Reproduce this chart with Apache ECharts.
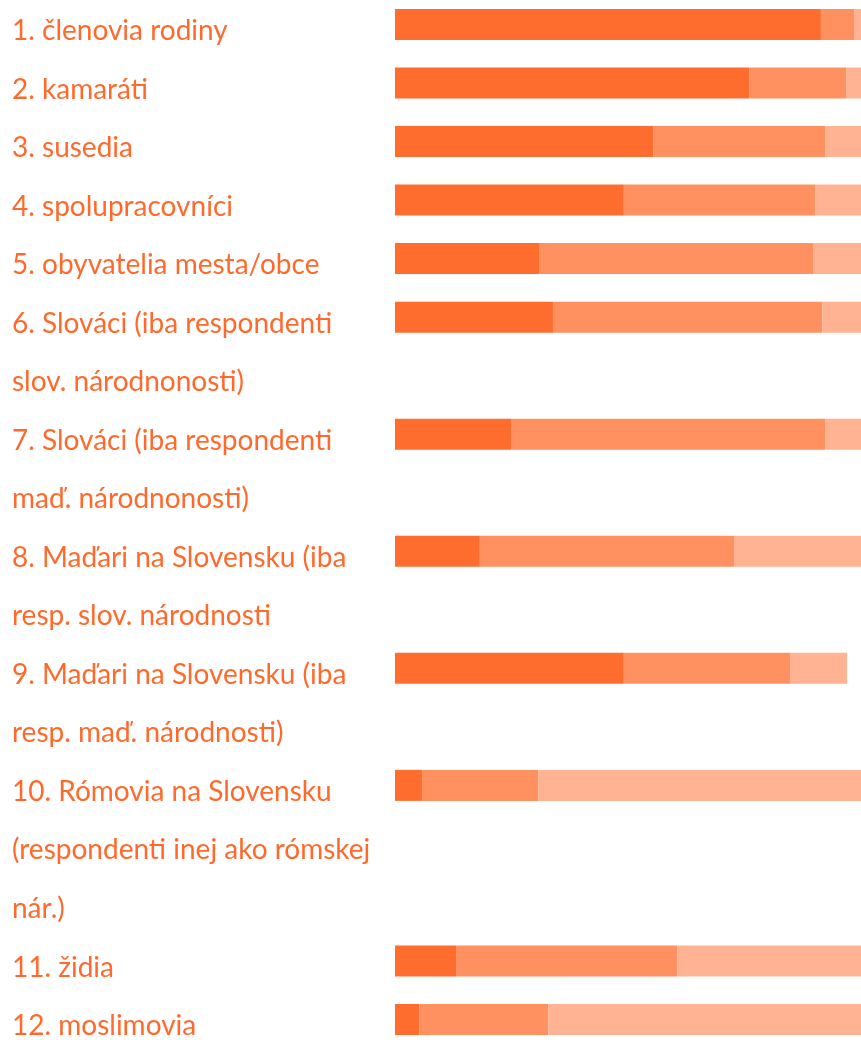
<!DOCTYPE html>
<html>
<head>
<meta charset="utf-8">
<script src="https://cdn.jsdelivr.net/npm/echarts@6/dist/echarts.min.js"></script>
<style>
  html, body { margin: 0; padding: 0; background: #ffffff; }
  #chart { width: 861px; height: 1040px; }
</style>
</head>
<body>
<div id="chart"></div>
<script>
// Group labels, each split into the lines it wraps onto
const groupLabels = [
  ['1. členovia rodiny'],
  ['2. kamaráti'],
  ['3. susedia'],
  ['4. spolupracovníci'],
  ['5. obyvatelia mesta/obce'],
  ['6. Slováci (iba respondenti', 'slov. národnonosti)'],
  ['7. Slováci (iba respondenti', 'maď. národnonosti)'],
  ['8. Maďari na Slovensku (iba', 'resp. slov. národnosti'],
  ['9. Maďari na Slovensku (iba', 'resp. maď. národnosti)'],
  ['10. Rómovia na Slovensku', '(respondenti inej ako rómskej', 'nár.)'],
  ['11. židia'],
  ['12. moslimovia']
];

// Shares in percent, one value per group
const shareFirst  = [91.4, 76.0, 55.4, 49.1, 30.9, 33.9, 24.9, 18.2, 49.1,  5.8, 13.1,  5.2];
const shareSecond = [ 7.1, 20.8, 36.9, 41.1, 58.8, 57.8, 67.4, 54.7, 35.8, 25.0, 47.5, 27.7];
const shareThird  = [ 1.5,  3.2,  7.7,  9.8, 10.3,  8.3,  7.7, 27.1, 12.1, 69.2, 39.4, 67.1];

const colors = ['#ff6d2e', '#ff9161', '#ffb393'];
const textColor = '#ff6a2c';

// Every wrapped line gets its own slot on the category axis;
// a group's bar sits on the slot of its first line.
const lineSlots = [];
const firstSlotOf = [];
groupLabels.forEach((lines, g) => {
  firstSlotOf[g] = lineSlots.length;
  lines.forEach(t => lineSlots.push(t));
});

function spread(values) {
  const out = lineSlots.map(() => '-');
  values.forEach((v, g) => { out[firstSlotOf[g]] = v; });
  return out;
}

const chart = echarts.init(document.getElementById('chart'), null, { renderer: 'canvas' });

const barSeries = [shareFirst, shareSecond, shareThird].map((vals, i) => ({
  type: 'bar',
  stack: 'total',
  data: spread(vals),
  barWidth: 31,
  itemStyle: { color: colors[i] },
  emphasis: { disabled: true },
  animation: false
}));

chart.setOption({
  animation: false,
  grid: { left: 395, right: 0, top: 24.5, bottom: 18.5, containLabel: false },
  xAxis: {
    type: 'value',
    min: 0,
    max: 100,
    show: false
  },
  yAxis: {
    type: 'category',
    data: lineSlots,
    inverse: true,
    boundaryGap: false,
    axisLine: { show: false },
    axisTick: { show: false },
    splitLine: { show: false },
    axisLabel: {
      align: 'left',
      verticalAlign: 'middle',
      margin: 383,
      interval: 0,
      formatter: v => '{line|' + v + '}',
      rich: {
        line: {
          color: textColor,
          fontFamily: 'Lato',
          fontSize: 28,
          lineHeight: 28,
          padding: [13, 0, 0, 0]
        }
      }
    }
  },
  series: barSeries
});
</script>
</body>
</html>
